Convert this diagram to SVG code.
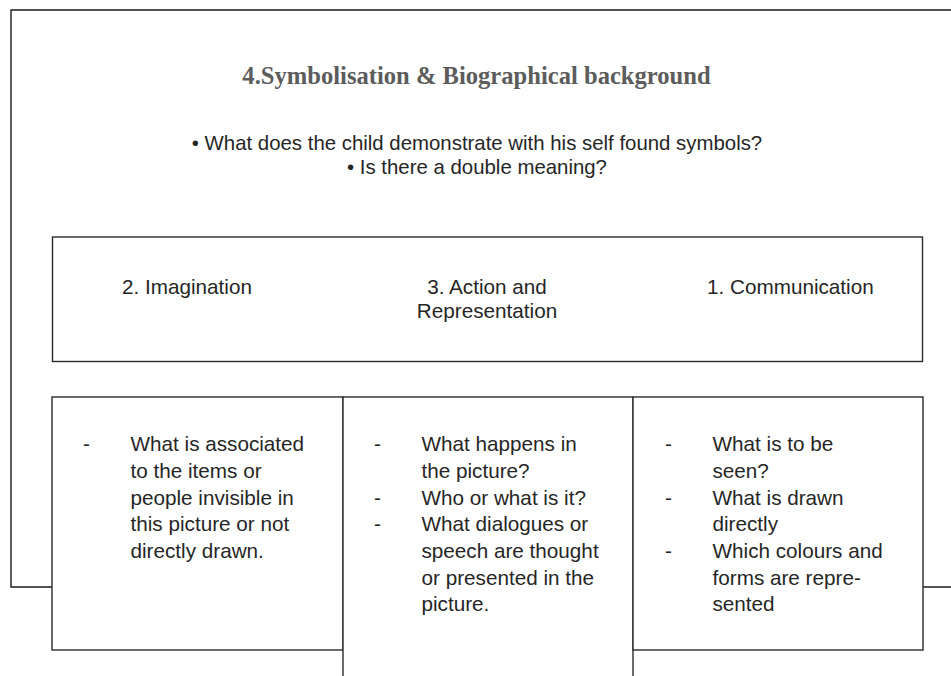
<svg xmlns="http://www.w3.org/2000/svg" width="951" height="676" viewBox="0 0 951 676">
  <style>
    .frame { fill: none; stroke: #1a1a1a; stroke-width: 1.4; }
    .box { fill: #ffffff; stroke: #2b2b2b; stroke-width: 1.4; }
    .title { font-family: "Liberation Serif", "Times New Roman", serif; font-weight: bold; font-size: 24.6px; fill: #5c5c5c; }
    .q { font-family: "Liberation Sans", Arial, sans-serif; font-size: 20.4px; fill: #262626; }
    .t { font-family: "Liberation Sans", Arial, sans-serif; font-size: 20.7px; fill: #262626; }
  </style>

  <rect width="951" height="676" fill="#ffffff"/>

  <!-- outer frame: open on the right, runs past the canvas edge -->
  <g id="frame">
    <path class="frame" d="M 960 10 L 11 10 L 11 587 L 52 587"/>
    <path class="frame" d="M 923 587 L 960 587"/>
    <text class="title" x="476.5" y="84" text-anchor="middle">4.Symbolisation &amp; Biographical background</text>
    <text class="q" x="477" y="150" text-anchor="middle">• What does the child demonstrate with his self found symbols?</text>
    <text class="q" x="477" y="174" text-anchor="middle">• Is there a double meaning?</text>
  </g>

  <!-- header row with the three aspects -->
  <g id="aspects">
    <rect class="box" x="52.5" y="237" width="870" height="124.5"/>
    <text class="t" x="122" y="294">2. Imagination</text>
    <text class="t" x="487" y="294" text-anchor="middle">3. Action and</text>
    <text class="t" x="487" y="318" text-anchor="middle">Representation</text>
    <text class="t" x="707" y="294">1. Communication</text>
  </g>

  <!-- question boxes -->
  <g id="imagination">
    <rect class="box" x="52" y="397" width="291" height="253"/>
    <text class="t" x="83" y="451">-</text>
    <text class="t" x="130.5" y="451">What is associated</text>
    <text class="t" x="130.5" y="478">to the items or</text>
    <text class="t" x="130.5" y="504.5">people invisible in</text>
    <text class="t" x="130.5" y="531">this picture or not</text>
    <text class="t" x="130.5" y="558">directly drawn.</text>
  </g>

  <g id="action">
    <rect class="box" x="343" y="397" width="290" height="300"/>
    <text class="t" x="374" y="451">-</text>
    <text class="t" x="421.5" y="451">What happens in</text>
    <text class="t" x="421.5" y="478">the picture?</text>
    <text class="t" x="374" y="504.5">-</text>
    <text class="t" x="421.5" y="504.5">Who or what is it?</text>
    <text class="t" x="374" y="531">-</text>
    <text class="t" x="421.5" y="531">What dialogues or</text>
    <text class="t" x="421.5" y="558">speech are thought</text>
    <text class="t" x="421.5" y="584.5">or presented in the</text>
    <text class="t" x="421.5" y="611">picture.</text>
  </g>

  <g id="communication">
    <rect class="box" x="633" y="397" width="290" height="253"/>
    <text class="t" x="665" y="451">-</text>
    <text class="t" x="712.5" y="451">What is to be</text>
    <text class="t" x="712.5" y="478">seen?</text>
    <text class="t" x="665" y="504.5">-</text>
    <text class="t" x="712.5" y="504.5">What is drawn</text>
    <text class="t" x="712.5" y="531">directly</text>
    <text class="t" x="665" y="558">-</text>
    <text class="t" x="712.5" y="558">Which colours and</text>
    <text class="t" x="712.5" y="584.5">forms are repre-</text>
    <text class="t" x="712.5" y="611">sented</text>
  </g>

  <g id="connectors"/>
</svg>
